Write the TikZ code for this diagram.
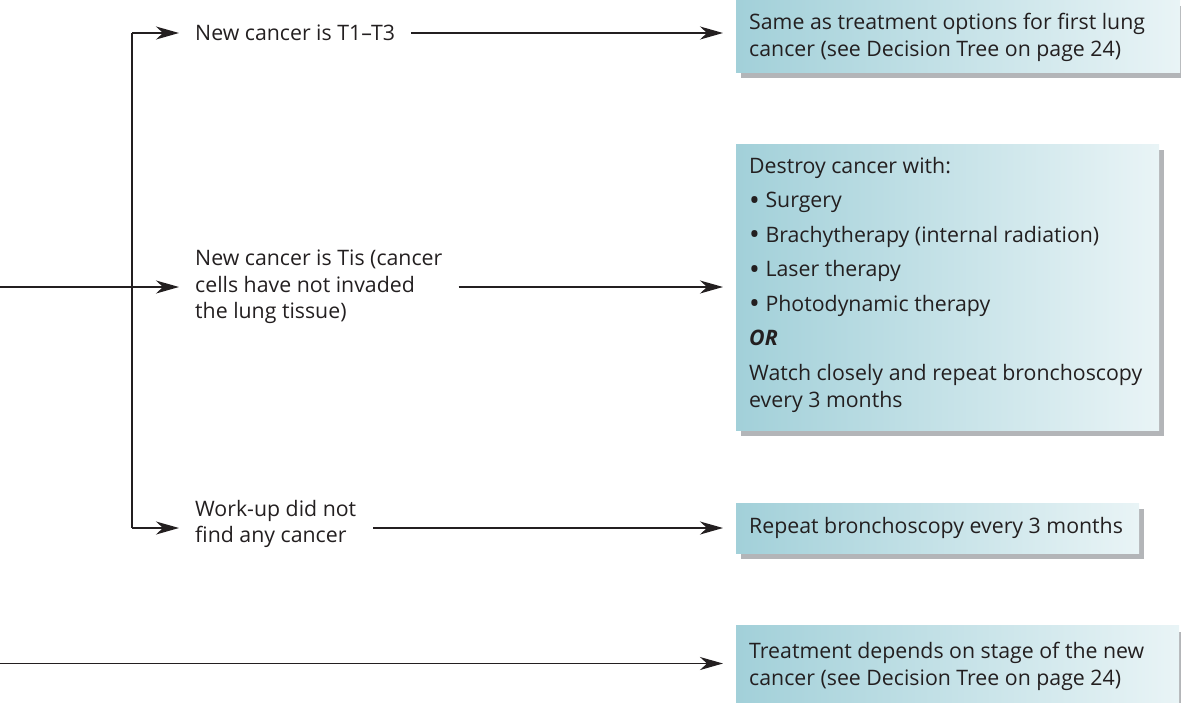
\documentclass[tikz,border=0pt]{standalone}
\usepackage{fontspec}
\setmainfont{Open Sans}
\usetikzlibrary{arrows.meta,shadows}
\definecolor{ink}{HTML}{231F20}
\definecolor{tealA}{HTML}{A2D0D9}
\definecolor{tealB}{HTML}{E9F4F6}
\definecolor{shade}{HTML}{B3B5B8}
\newcommand{\bul}{\raisebox{-2.2pt}{\scalebox{1.35}{\textbullet}}\ }
\begin{document}
\begin{tikzpicture}[x=1pt,y=-1pt,
  every node/.style={text=ink},
  txt/.style={font=\fontsize{21.3}{26.5}\selectfont, align=left, anchor=west, inner sep=0pt},
  box/.style={anchor=north west, inner sep=0pt,
    left color=tealA, right color=tealB, shading angle=90,
    drop shadow={shadow xshift=5pt, shadow yshift=-6pt, fill=shade, opacity=1}},
  boxtext/.style={anchor=west, inner sep=0pt, font=\fontsize{21.3}{27.5}\selectfont, align=left},
  conn/.style={draw=ink, line width=1.5pt},
  arr/.style={conn, -{Stealth[length=23pt,width=13pt,inset=7pt]}}
]
\useasboundingbox (0,0) rectangle (1181,702);

% outcome boxes
\node[box, minimum width=444pt, minimum height=72pt] (b1) at (736,0) {};
\node[box, minimum width=423pt, minimum height=286pt] (b2) at (736,144) {};
\node[box, minimum width=403pt, minimum height=50pt] (b3) at (736,503) {};
\node[box, minimum width=443pt, minimum height=77pt] (b4) at (736,625.5) {};

% box contents
\node[boxtext] (b1t) at ([xshift=13pt,yshift=-1pt]b1.west)
  {Same as treatment options for first lung\\cancer (see Decision Tree on page 24)};
\node[boxtext] (b2t) at ([xshift=13pt,yshift=2pt]b2.west)
  {Destroy cancer with:\\[7pt]
   \bul Surgery\\[7pt]
   \bul Brachytherapy (internal radiation)\\[7pt]
   \bul Laser therapy\\[7pt]
   \bul Photodynamic therapy\\[7pt]
   \textbf{\textit{OR}}\\[7pt]
   Watch closely and repeat bronchoscopy\\every 3 months};
\node[boxtext] (b3t) at ([xshift=13pt]b3.west) {Repeat bronchoscopy every 3 months};
\node[boxtext] (b4t) at ([xshift=13pt,yshift=-2pt]b4.west)
  {Treatment depends on stage of the new\\cancer (see Decision Tree on page 24)};

% branch labels
\node[txt] (t1) at (195,33) {New cancer is T1–T3};
\node[txt] (t2) at (195,287) {New cancer is Tis (cancer\\cells have not invaded\\the lung tissue)};
\node[txt] (t3) at (195,524) {Work-up did not\\find any cancer};

% junction points and free ends
\coordinate (jt) at (132,33);
\coordinate (jb) at (132,528);
\coordinate (in1) at (0,287);
\coordinate (in2) at (0,663.5);

% branching trunk
\draw[conn] (jt) -- (jb);
\draw[arr, shorten >=16pt] (jt) -- (t1.west);
\draw[arr, shorten >=16pt] (in1) -- (t2.west);
\draw[arr, shorten >=16pt] (jb) -- (jb -| t3.west);

% labels to outcomes
\draw[arr, shorten <=16pt, shorten >=13pt] (t1.east) -- (t1.east -| b1.west);
\draw[arr, shorten <=16pt, shorten >=13pt] (t2.east) -- (t2.east -| b2.west);
\draw[arr, shorten >=13pt] (373,528) -- (373,528 -| b3.west);
\draw[arr, shorten >=13pt] (in2) -- (in2 -| b4.west);
\end{tikzpicture}
\end{document}
